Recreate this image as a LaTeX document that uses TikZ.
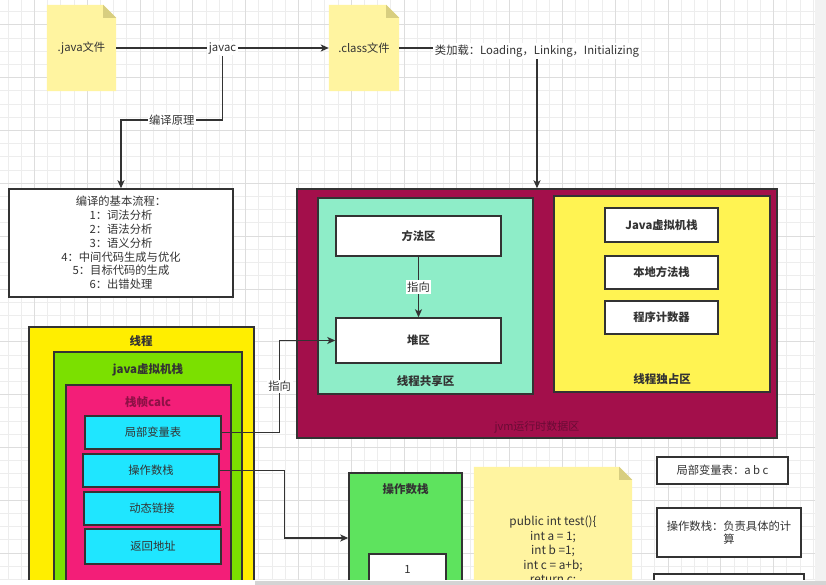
\documentclass[tikz,border=0pt]{standalone}
\usepackage{fontspec}
\setmainfont{Noto Sans CJK SC}
\usetikzlibrary{arrows.meta}

\definecolor{ink}{HTML}{333333}
\definecolor{gridminor}{HTML}{EDEDED}
\definecolor{gridmajor}{HTML}{DDDDDD}
\definecolor{notebg}{HTML}{FFF4A0}
\definecolor{notefold}{HTML}{D8CE80}
\definecolor{maroon}{HTML}{A30F4B}
\definecolor{maroontext}{HTML}{6A0B35}
\definecolor{mint}{HTML}{8EEDC8}
\definecolor{sunny}{HTML}{FFF352}
\definecolor{threadyellow}{HTML}{FFEE00}
\definecolor{vmgreen}{HTML}{7BE000}
\definecolor{framepink}{HTML}{F31E78}
\definecolor{frametext}{HTML}{8E1046}
\definecolor{slotcyan}{HTML}{1FE6FF}
\definecolor{opgreen}{HTML}{5EE35E}
\definecolor{sidegray}{HTML}{F2F2F2}
\definecolor{bargray}{HTML}{D4D4D4}

\pgfdeclarelayer{grid}
\pgfdeclarelayer{paper}
\pgfsetlayers{grid,paper,main}

\newcommand\basefont{\fontsize{11.3}{13.8}\selectfont}

\tikzset{
  box/.style={rectangle, draw=ink, line width=1.4pt, inner sep=2pt,
    text=ink, font=\basefont, align=center},
  plainbox/.style={box, fill=white},
  boldbox/.style={box, fill=white, font=\basefont\bfseries},
  slot/.style={box, fill=slotcyan},
  note/.style={rectangle, inner sep=2pt, text=ink, font=\basefont, align=center},
  title/.style={inner sep=1pt, text=ink, font=\fontsize{11.5}{13}\selectfont\bfseries},
  conn/.style={draw=ink, line width=1.3pt, -{Stealth[length=8pt,width=7pt,inset=2pt]}},
  elabel/.style={fill=white, inner sep=1.5pt, text=ink, font=\basefont},
}

% folded-corner sticky note behind a named node
\newcommand\notepaper[1]{%
  \begin{pgfonlayer}{paper}
    \fill[notebg] (#1.north west) -- ([xshift=-13pt]#1.north east)
      -- ([yshift=-13pt]#1.north east) -- (#1.south east) -- (#1.south west) -- cycle;
    \fill[notefold] ([xshift=-13pt]#1.north east)
      -- ([xshift=-13pt,yshift=-13pt]#1.north east)
      -- ([yshift=-13pt]#1.north east) -- cycle;
  \end{pgfonlayer}}

\begin{document}
\begin{tikzpicture}[x=1pt,y=-1pt]
\useasboundingbox (0,0) rectangle (826,585);

% canvas grid
\begin{pgfonlayer}{grid}
  \fill[white] (0,0) rectangle (826,585);
  \foreach \i in {0,...,61} {\draw[gridminor, line width=0.8pt] ({7.9+13.2*\i},0) -- ({7.9+13.2*\i},580);}
  \foreach \j in {0,...,43} {\draw[gridminor, line width=0.8pt] (0,{11.7+13.2*\j}) -- (815,{11.7+13.2*\j});}
  \foreach \i in {2,6,...,58} {\draw[gridmajor, line width=0.8pt] ({7.9+13.2*\i},0) -- ({7.9+13.2*\i},580);}
  \foreach \j in {1,5,...,41} {\draw[gridmajor, line width=0.8pt] (0,{11.7+13.2*\j}) -- (815,{11.7+13.2*\j});}
\end{pgfonlayer}

% source and class files
\node[note, minimum width=69pt, minimum height=86pt] (java) at (81.5,48) {.java文件};
\notepaper{java}
\node[note, minimum width=70pt, minimum height=86pt] (class) at (364,48) {.class文件};
\notepaper{class}

% compilation steps
\node[plainbox, minimum width=224pt, minimum height=108pt] (compile) at (121,243)
  {编译的基本流程：\\1：词法分析\\2：语法分析\\3：语义分析\\4：中间代码生成与优化\\5：目标代码的生成\\6：出错处理};

% JVM runtime data area
\node[box, fill=maroon, minimum width=480pt, minimum height=249pt] (jvm) at (537,313.5) {};
\node[inner sep=1pt, text=maroontext, font=\fontsize{11}{12}\selectfont] (jvmT) at (537,427) {jvm运行时数据区};

\node[box, fill=mint, minimum width=215pt, minimum height=196pt] (share) at (425.5,296) {};
\node[title] (shareT) at (425.5,381) {线程共享区};
\node[boldbox, minimum width=165pt, minimum height=40pt] (fangfa) at (418.5,236) {方法区};
\node[boldbox, minimum width=165pt, minimum height=45pt] (dui) at (418.5,340.5) {堆区};

\node[box, fill=sunny, minimum width=216pt, minimum height=196pt] (only) at (662,294) {};
\node[title] (onlyT) at (662,379) {线程独占区};
\node[boldbox, minimum width=113pt, minimum height=34pt] (jstack) at (661.5,225) {Java虚拟机栈};
\node[boldbox, minimum width=113pt, minimum height=33pt] (nstack) at (661.5,272.5) {本地方法栈};
\node[boldbox, minimum width=113pt, minimum height=33pt] (pc) at (661.5,317.5) {程序计数器};

% thread, VM stack and frame
\node[box, fill=threadyellow, minimum width=225pt, minimum height=293pt] (thread) at (141.5,473.5) {};
\node[title] (threadT) at (141,341) {线程};
\node[box, fill=vmgreen, minimum width=188pt, minimum height=268pt] (vmstack) at (148,486) {};
\node[title] (vmstackT) at (148,370) {java虚拟机栈};
\node[box, fill=framepink, minimum width=165pt, minimum height=235pt] (frame) at (148.5,502.5) {};
\node[title, text=frametext] (frameT) at (148,402) {栈帧calc};
\node[slot, minimum width=136pt, minimum height=33pt] (jubu) at (153,432.5) {局部变量表};
\node[slot, minimum width=136pt, minimum height=33pt] (czs) at (151,470.5) {操作数栈};
\node[slot, minimum width=136pt, minimum height=33pt] (dtlj) at (152,508.5) {动态链接};
\node[slot, minimum width=136pt, minimum height=35pt] (fhdz) at (153,546.5) {返回地址};

% operand stack
\node[box, fill=opgreen, minimum width=113pt, minimum height=130pt] (opstack) at (405.5,538) {};
\node[title] (opstackT) at (405.5,489) {操作数栈};
\node[plainbox, minimum width=77pt, minimum height=30pt] (slot1) at (407.5,569) {1};

% sample method
\node[note, minimum width=158pt, minimum height=168pt, font=\fontsize{11.8}{14.5}\selectfont] (code) at (553,551)
  {public int test()\{\\int a = 1;\\int b =1;\\int c = a+b;\\return c;};
\notepaper{code}

% notes on the right
\node[plainbox, minimum width=131pt, minimum height=27pt] (noteA) at (722.5,470.5) {局部变量表：a b c};
\node[plainbox, minimum width=144pt, minimum height=49pt, font=\fontsize{11.3}{13}\selectfont] (noteB) at (729,532.5) {操作数栈：负责具体的计\\算};
\node[plainbox, minimum width=150pt, minimum height=52pt] (noteC) at (729,600) {};

% connectors
\draw[conn] (java) -- node[elabel] (javac) {javac} (class);
\draw[conn] (javac.south) -- (javac.south |- 0,120) -| (compile.north)
  node[pos=0.25, elabel] {编译原理};
\draw[conn] (class) -| (jvm)
  node[pos=0.5, elabel, yshift=-3pt] {类加载：Loading，Linking，Initializing};
\draw[conn] (fangfa) -- node[elabel] {指向} (dui);
\draw[conn] (jubu.east) -- ++(58,0) |- (dui.west) node[pos=0.25, elabel] {指向};
\draw[conn] (czs.east) -- ++(65,0) |- (opstack.west);

% window edges
\fill[white] (0,580) rectangle (826,585);
\fill[sidegray] (815,0) rectangle (826,581);
\fill[bargray] (255,581) rectangle (826,585);
\end{tikzpicture}
\end{document}
